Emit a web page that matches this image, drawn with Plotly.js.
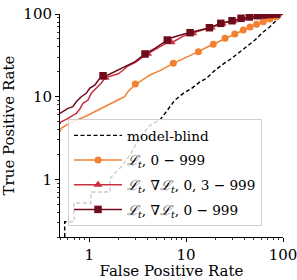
<!DOCTYPE html>
<html><head><meta charset="utf-8">
<script src="https://cdn.plot.ly/plotly-3.0.1.min.js"></script>
<style>html,body{margin:0;padding:0;background:#fff}#chart{width:297px;height:280px}</style>
</head><body><div id="chart"></div>
<script>
// ---- data (percent) ----
var seriesNames = ['model-blind', '<i>ℒ</i><sub><i>t</i></sub>, 0 − 999', '<i>ℒ</i><sub><i>t</i></sub>, ∇<i>ℒ</i><sub><i>t</i></sub>, 0, 3 − 999', '<i>ℒ</i><sub><i>t</i></sub>, ∇<i>ℒ</i><sub><i>t</i></sub>, 0 − 999'];

var blindX = [0.559, 0.559, 0.697, 0.697, 1.04, 1.04, 1.64, 1.64, 2.13, 2.64, 3.34, 4.24, 5.38, 6.82, 7.68, 9.36, 11.42, 13.9, 16.3, 19.1, 23.3, 29.6, 34.6, 42.2, 51.4, 60.3, 73.4, 86.1, 100];
var blindY = [0.2, 0.306, 0.306, 0.515, 0.515, 0.70, 0.70, 1.03, 1.41, 1.96, 3.24, 4.5, 5.21, 7.55, 9.10, 10.96, 12.6, 15.1, 16.7, 20.0, 24.1, 29.1, 33.4, 40.2, 48.4, 58.4, 70.2, 84.6, 100];

var lossX = [0.5, 0.515, 0.58, 0.68, 0.767, 0.90, 1.05, 1.23, 1.45, 1.69, 1.98, 2.32, 2.51, 2.95, 3.45, 4.05, 4.24, 5.38, 6.3, 7.38, 9.5, 11.5, 13.4, 16, 19.1, 22, 25.2, 28.5, 31.8, 35, 38.9, 45.7, 53.4, 62.6, 73.3, 84.7, 100];
var lossY = [3.76, 4.13, 4.53, 4.97, 5.31, 5.71, 6.28, 6.88, 7.55, 8.30, 9.1, 9.97, 11.5, 13.8, 15.6, 17.5, 18.3, 20.6, 23.0, 25.3, 29.0, 32.0, 35.0, 39.0, 43.0, 47.0, 50.8, 54.0, 57.3, 60.5, 64.0, 69.6, 75.0, 80.7, 87.0, 92.7, 100];
var lossMarkX = [2.99, 7.38, 13.4, 19.1, 25.2, 31.8, 38.9, 45.7, 53.4, 62.6, 73.3, 84.7];
var lossMarkY = [14.2, 25.3, 35.0, 43.0, 50.8, 57.3, 64.0, 69.6, 75.0, 80.7, 87.0, 92.7];

var grad3X = [0.5, 0.515, 0.58, 0.654, 0.736, 0.798, 0.863, 0.972, 1.05, 1.18, 1.33, 1.46, 1.71, 2.0, 2.25, 2.51, 3.0, 3.77, 4.77, 6.4, 7.4, 9.36, 11.0, 14, 17.4, 20, 22.8, 26, 29.8, 33, 36.9, 40.5, 44.9, 49.5, 54.3, 63, 73, 86, 100];
var grad3Y = [4.66, 4.97, 5.31, 5.71, 6.28, 7.02, 8.30, 9.1, 10.97, 12.6, 14.5, 16.9, 17.9, 18.9, 21.0, 23.5, 26.0, 31.5, 37.0, 45.0, 46.2, 54.0, 57.8, 62.5, 67.3, 71.5, 76.0, 79.5, 82.3, 85.5, 88.0, 90.2, 91.6, 93.6, 95.0, 96.8, 98.3, 99.4, 100];
var grad3MarkX = [1.46, 4.0, 7.0, 11.7, 18.2, 23.6, 30.6, 38.0, 46.0, 55.5, 64.5, 74.5, 87.5];
var grad3MarkY = [16.9, 33.0, 45.6, 58.5, 68.8, 77.0, 83.0, 88.6, 92.0, 95.3, 97.0, 98.4, 99.5];

var grad0X = [0.5, 0.537, 0.604, 0.68, 0.736, 0.829, 0.933, 1.01, 1.14, 1.28, 1.39, 1.56, 1.83, 2.14, 2.51, 2.98, 3.77, 4.77, 6.4, 6.8, 9.36, 11.0, 14, 17.4, 20, 22.8, 26, 29.8, 33, 36.9, 40.5, 44.9, 49.5, 54.3, 63, 73, 86, 100];
var grad0Y = [6.28, 6.56, 7.21, 7.55, 8.67, 9.97, 10.97, 12.6, 13.8, 16.6, 17.9, 18.3, 20.0, 22.0, 24.1, 26.5, 32.8, 38.4, 48.4, 50.8, 56.8, 59.4, 63.5, 68.2, 72.5, 77.1, 80, 82.9, 86, 88.7, 90.5, 92.0, 94, 95.3, 97, 98.5, 99.5, 100];
var grad0MarkX = [1.39, 3.77, 6.4, 11.0, 17.4, 22.8, 29.8, 36.9, 44.9, 54.3, 63, 73, 86];
var grad0MarkY = [17.9, 32.8, 48.4, 59.4, 68.2, 77.1, 82.9, 88.7, 92.0, 95.3, 97, 98.5, 99.5];

var tickVals = [1, 10, 100];
var tickText = ['1', '10', '100'];

// ---- styles ----
var FONT = 'DejaVu Serif';
var cBlind = '#000000', cLoss = '#f28131', cG3 = '#c8303f', cG0 = '#6e0c1c';

function minorVals(lo, hi) {
  var v = [];
  for (var d = -1; d <= 1; d++) {
    for (var k = 2; k <= 9; k++) {
      var t = k * Math.pow(10, d);
      if (t >= lo && t <= hi) v.push(t);
    }
  }
  return v;
}

function lineTrace(x, y, color, group) {
  return {x: x, y: y, mode: 'lines', type: 'scatter', line: {color: color, width: 1.5},
    showlegend: false, legendgroup: group, hoverinfo: 'skip'};
}
function markTrace(x, y, color, sym, size, group) {
  return {x: x, y: y, mode: 'markers', type: 'scatter',
    marker: {color: color, symbol: sym, size: size, line: {width: 0}},
    showlegend: false, legendgroup: group, hoverinfo: 'skip'};
}
function legendTrace(name, color, sym, size, group) {
  return {x: [null], y: [null], mode: 'lines+markers', type: 'scatter', name: name,
    line: {color: color, width: 1.5}, marker: {color: color, symbol: sym, size: size},
    legendgroup: group, showlegend: true};
}

var traces = [
  {x: blindX, y: blindY, mode: 'lines', type: 'scatter', name: seriesNames[0],
   line: {color: cBlind, width: 1.4, dash: '4px,2.5px'}, legendgroup: 'g0', hoverinfo: 'skip'},
  lineTrace(lossX, lossY, cLoss, 'g1'),
  markTrace(lossMarkX, lossMarkY, cLoss, 'circle', 7, 'g1'),
  lineTrace(grad3X, grad3Y, cG3, 'g2'),
  markTrace(grad3MarkX, grad3MarkY, cG3, 'triangle-up', 8, 'g2'),
  lineTrace(grad0X, grad0Y, cG0, 'g3'),
  markTrace(grad0MarkX, grad0MarkY, cG0, 'square', 7.5, 'g3'),
  legendTrace(seriesNames[1], cLoss, 'circle', 7, 'g1'),
  legendTrace(seriesNames[2], cG3, 'triangle-up', 8, 'g2'),
  legendTrace(seriesNames[3], cG0, 'square', 7.5, 'g3')
];

function axis(range, title, lo, hi, standoff) {
  return {
    type: 'log', range: range, tickmode: 'array', tickvals: tickVals, ticktext: tickText,
    ticks: 'outside', ticklen: 4, tickwidth: 1, tickcolor: '#000',
    ticklabeloverflow: 'allow',
    showline: true, linecolor: '#000', linewidth: 1, showgrid: false, zeroline: false,
    minor: {tickmode: 'array', tickvals: minorVals(lo, hi), ticks: 'outside', ticklen: 2, tickwidth: 0.8, tickcolor: '#000', showgrid: false},
    tickfont: {family: FONT, size: 15, color: '#000'},
    title: {text: title, font: {family: FONT, size: 15, color: '#000'}, standoff: standoff}
  };
}

var layout = {
  width: 297, height: 280,
  margin: {l: 60, r: 14, t: 14, b: 43},
  paper_bgcolor: '#fff', plot_bgcolor: '#fff',
  font: {family: FONT, size: 15, color: '#000'},
  showlegend: true,
  legend: {x: 0.036, y: 0.529, xanchor: 'left', yanchor: 'top',
    bgcolor: 'rgba(255,255,255,0.8)', bordercolor: '#d0d0d0', borderwidth: 1,
    font: {family: FONT, size: 13.6, color: '#000'}, tracegroupgap: 4, itemwidth: 48},
  xaxis: axis([Math.log10(0.5), 2], 'False Positive Rate', 0.5, 100, 0),
  yaxis: axis([Math.log10(0.2), 2], 'True Positive Rate', 0.2, 100, 6)
};

Plotly.newPlot('chart', traces, layout, {staticPlot: true, displayModeBar: false});
</script></body></html>
